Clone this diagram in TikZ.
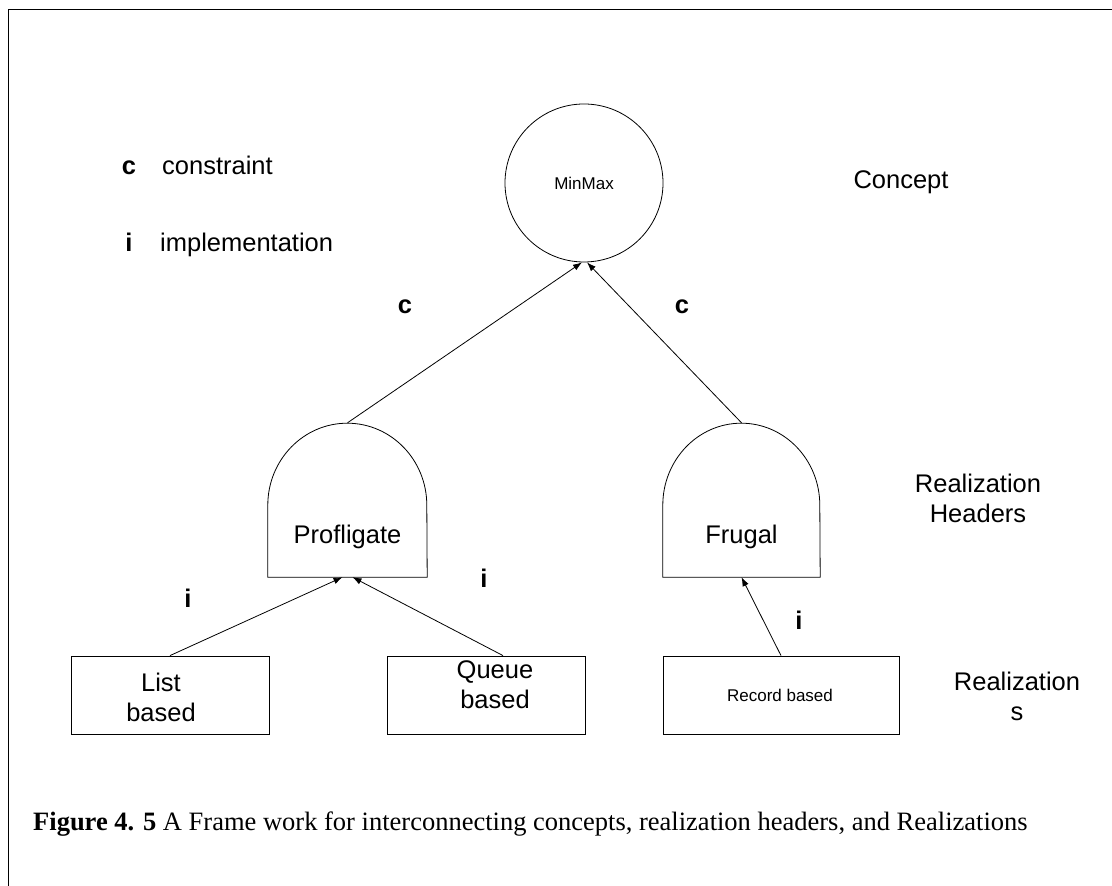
\documentclass[tikz,border=0pt]{standalone}
\usepackage{fontspec}
\setmainfont{Liberation Sans}
\newfontfamily\capfont{Liberation Serif}
\usetikzlibrary{arrows.meta,calc}
\begin{document}
\begin{tikzpicture}[x=1pt,y=1pt,
  every node/.style={font=\fontsize{25.5}{30}\selectfont, inner sep=0pt},
  box/.style={draw, line width=0.8pt, minimum width=198pt, minimum height=78pt},
  dome/.style={minimum width=159pt, minimum height=154pt},
  link/.style={line width=0.8pt, -{Latex[length=9pt,width=6.5pt]}},
  lbl/.style={font=\fontsize{25.5}{30}\selectfont\bfseries},
  small/.style={font=\fontsize{17}{20}\selectfont},
  txt/.style={align=center}]
\useasboundingbox (0,0) rectangle (1112,886);
% frame
\draw[line width=1.5pt] (8.5,0) -- (8.5,876.5) -- (1112,876.5);

% concept
\node[draw, circle, minimum size=158pt, line width=0.8pt, small] (mm) at (584,703) {MinMax};

% realization headers (dome shapes)
\node[dome] (prof) at (347.5,386) {};
\draw[line width=0.8pt] (prof.south west) -- ++(0,72)
  arc[start angle=180, end angle=0, x radius=79.5, y radius=82] -- (prof.south east) -- cycle;
\node (proftxt) at (347.5,349) {Profligate};

\node[dome, minimum width=157pt] (frug) at (741.5,386) {};
\draw[line width=0.8pt] (frug.south west) -- ++(0,72)
  arc[start angle=180, end angle=0, x radius=78.5, y radius=82] -- (frug.south east) -- cycle;
\node (frugtxt) at (741.5,349) {Frugal};

% realizations
\node[box] (list) at (170,191) {};
\node[txt] (listtxt) at (161,189) {List\\based};
\node[box] (queue) at (486,191) {};
\node[txt] (queuetxt) at (495,201) {Queue\\based};
\node[box, minimum width=236pt] (rec) at (781,191) {};
\node[small] (rectxt) at (780,191) {Record based};

% connectors
\draw[link] (prof.north) -- ([xshift=-2pt]mm.south);
\draw[link] (frug.north) -- ([xshift=3pt]mm.south);
\draw[link] (list.north) -- ([xshift=-5pt]prof.south);
\draw[link] ([xshift=17pt]queue.north) -- ([xshift=5pt]prof.south);
\draw[link] (rec.north) -- (frug.south);

% relation labels
\node[lbl] (c1) at (405,579) {c};
\node[lbl] (c2) at (682,579) {c};
\node[lbl] (i1) at (188,288) {i};
\node[lbl] (i2) at (484,308) {i};
\node[lbl] (i3) at (799,266) {i};

% legend
\node[lbl, anchor=base] (legc) at (129,711) {c};
\node[anchor=base west] (legct) at (162,711) {constraint};
\node[lbl, anchor=base] (legi) at (129,634) {i};
\node[anchor=base west] (legit) at (160,634) {implementation};

% level names
\node (concept) at (901,704) {Concept};
\node[txt] (headers) at (978,388) {Realization\\Headers};
\node[txt] (reals) at (1017,190) {Realization\\s};

% caption
\node[anchor=west, font=\capfont\fontsize{26.5}{30}\selectfont] (cap) at (33,62)
  {\textbf{Figure 4. 5} A Frame work for interconnecting concepts, realization headers, and Realizations};
\end{tikzpicture}
\end{document}
